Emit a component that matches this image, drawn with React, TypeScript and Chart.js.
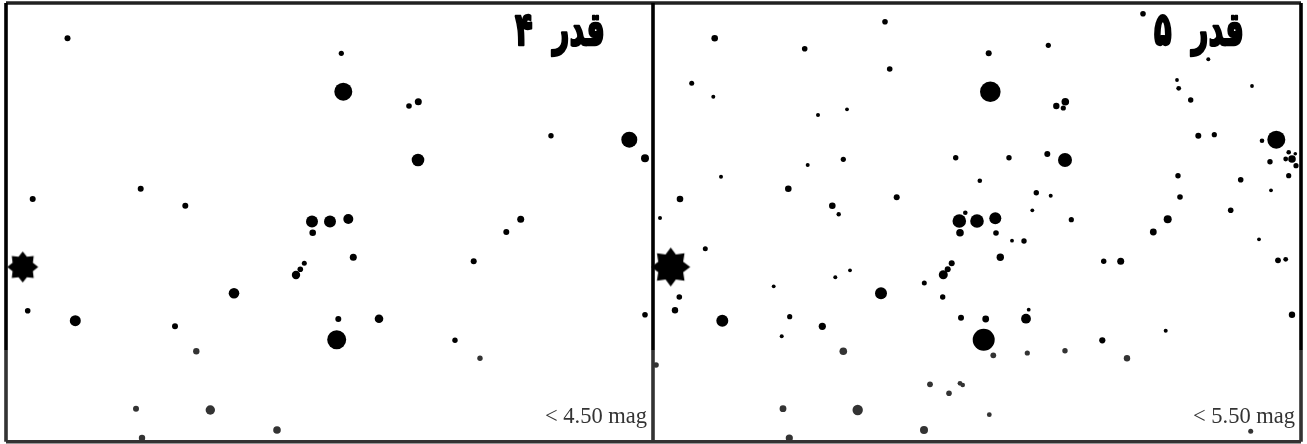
import React, { useEffect, useRef } from "react";
import { Chart, registerables } from "chart.js";

Chart.register(...registerables);

// Sky positions: [x, y, apparent size]
const starsMag4: number[][] = [
  [67.5, 38.3, 3], [32.7, 199, 3], [140.7, 188.7, 3], [185.3, 205.7, 3],
  [341.3, 53.3, 2.6], [343.3, 91.7, 9], [409, 106, 2.8], [418.3, 101.7, 3.5],
  [629.3, 139.7, 8], [645, 158.3, 4], [418, 160, 6.3], [551, 135.7, 2.7],
  [520.7, 219.3, 3.5], [348.3, 219, 5], [312, 221.5, 6], [330, 221.5, 6],
  [312.7, 232.7, 3.3], [304.3, 263.3, 2.5], [300.3, 269.3, 2.8], [296, 275, 4.2],
  [234, 293.3, 5.3], [27.7, 310.7, 2.8], [75.3, 320.7, 5.5], [175, 326.3, 3],
  [196.3, 351.3, 3.2], [136, 408.7, 3], [210.3, 410, 4.7], [142, 438, 3.2],
  [277, 430, 3.8], [506.3, 232, 3], [353.3, 257.3, 3.5], [473.7, 261.3, 3],
  [338.3, 319, 3], [379, 318.7, 4.3], [336.7, 339.7, 9.5], [455, 340.3, 2.7],
  [480, 358.3, 2.7], [645, 314.7, 2.8],
];

const starsMag5: number[][] = [
  [885, 21.7, 2.8], [714.7, 38.3, 3.3], [804.7, 48.7, 2.8], [889.7, 69, 2.8],
  [691.7, 83.3, 2.5], [713.3, 96.7, 2], [818, 115, 2], [847, 109.3, 1.9],
  [955.7, 157.7, 2.7], [843.3, 159.3, 2.6], [807.7, 165, 2], [721, 176.7, 2],
  [979.8, 180.7, 2.3], [788.3, 188.7, 3.3], [896.7, 197.3, 3], [680, 199, 3.3],
  [832.3, 205.7, 3.3], [838.7, 214.3, 2.2], [660, 218, 2], [965.3, 212.7, 2.3],
  [959.3, 221, 6.8], [977, 221, 6.8], [1143, 13.7, 2.8], [1048.3, 45.3, 2.6],
  [988.7, 53.3, 3], [1208.3, 59.3, 2], [990.3, 91.7, 10.3], [1177, 80, 1.9],
  [1178.7, 88.3, 2.4], [1252, 86, 1.9], [1190.7, 100, 2.7], [1065.3, 101.7, 3.8],
  [1056.3, 106, 3.2], [1063.3, 108, 2.6], [1198.3, 135.7, 3], [1214.3, 134.7, 2.6],
  [1276.3, 139.7, 9], [1262, 140.7, 2.3], [1009, 157.7, 2.7], [1047.3, 154, 3],
  [1065, 160, 7], [1292, 159, 3.8], [1288.7, 152.3, 2.3], [1295.3, 153.7, 1.8],
  [1285.7, 159, 2.4], [1296, 165.7, 2.6], [1270, 161.7, 2.7], [1288.7, 175.7, 2.6],
  [1178, 175.7, 2.7], [1240.7, 179.7, 2.8], [1036.3, 192.7, 2.7], [1050.7, 195.7, 2],
  [1271, 190.3, 1.9], [1180, 197, 2.8], [1032.3, 210.3, 1.9], [1230.7, 210.3, 2.8],
  [1071.3, 219.7, 2.6], [1167.7, 219.3, 4], [995.3, 218.3, 6],
  [951.7, 263.3, 3], [947.7, 269.3, 3], [943.3, 274.7, 4.5], [960, 232.7, 3.8],
  [705.3, 248.7, 2.5], [850, 270.3, 1.9], [835.3, 277.3, 2], [773.7, 286.3, 1.9],
  [924.3, 283, 2.5], [881, 293.3, 6], [679.3, 297, 2.8], [942.7, 297, 2.7],
  [675, 310.3, 3.2], [722.3, 320.7, 6], [789.7, 316.7, 2.6], [822.3, 326.3, 3.6],
  [781.7, 336.3, 2], [961, 317.7, 3], [843.3, 351.3, 3.8], [656, 365, 2.8],
  [930, 384.3, 2.9], [949, 393.3, 2.8], [960, 383.3, 2.4], [962.7, 385, 2.3],
  [783, 408.7, 3.4], [857.7, 410, 5.2], [789.3, 438, 3.6], [924, 430, 4],
  [996, 233, 2.8], [1012, 240.7, 1.9], [1024, 241, 2.7], [1153.3, 232, 3.4],
  [1259, 239.3, 1.9], [1000.3, 257.3, 3.7], [1103.7, 261.3, 2.7], [1120.7, 261.3, 3.5],
  [1278, 260.3, 2.9], [1285.7, 259.3, 2.4], [1292, 314.7, 3.2], [1028.7, 309.7, 1.9],
  [1026, 318.7, 4.9], [985.7, 319, 3.4], [1165.7, 330.7, 2], [983.7, 339.7, 11],
  [1102.3, 340.3, 3.1], [1065, 350.7, 2.7], [1027.3, 353, 2.6], [993.3, 355.3, 2.9],
  [1127, 358.3, 3.2], [989.3, 414.7, 2.4], [1250.7, 431.3, 2.5],
];

const sunX = [22.7, 670.7];
const sunY = [267, 267];

const panelTitles = ["قدر  ۴", "قدر  ۵"];
const limitLabels = ["< 4.50 mag", "< 5.50 mag"];

const frameX = [6, 653, 1301];
const frameTop = 3;
const frameFade = 350;
const frameBottom = 441.8;

const INK = "#000000";
const FADED = "#333333";

function sunSprite(outer: number, inner: number): HTMLCanvasElement {
  const size = Math.ceil(outer * 2 + 2);
  const c = document.createElement("canvas");
  c.width = size;
  c.height = size;
  const g = c.getContext("2d")!;
  g.translate(size / 2, size / 2);
  g.beginPath();
  for (let i = 0; i < 16; i++) {
    const a = (i * Math.PI) / 8 - Math.PI / 2;
    const r = i % 2 === 0 ? outer : inner;
    g.lineTo(r * Math.cos(a), r * Math.sin(a));
  }
  g.closePath();
  g.fillStyle = "#000";
  g.fill();
  return c;
}

const bubbleData = (rows: number[][]) => rows.map(([x, y, r]) => ({ x, y, r }));

const shade = (ctx: any) => (ctx.raw && ctx.raw.y > frameFade ? FADED : INK);

const labelsPlugin = {
  id: "panelLabels",
  afterDatasetsDraw(chart: any) {
    const { ctx, scales } = chart;
    const titleAnchors = [605, 1244];
    const labelAnchors = [647, 1295];
    panelTitles.forEach((t, i) => {
      ctx.save();
      ctx.translate(scales.x.getPixelForValue(titleAnchors[i]), scales.y.getPixelForValue(45));
      ctx.scale(0.76, 1.2);
      ctx.font = "bold 38px 'DejaVu Sans'";
      ctx.direction = "rtl";
      ctx.textAlign = "right";
      ctx.textBaseline = "alphabetic";
      ctx.fillStyle = INK;
      ctx.strokeStyle = INK;
      ctx.lineWidth = 2;
      ctx.lineJoin = "round";
      ctx.strokeText(t, 0, 0);
      ctx.fillText(t, 0, 0);
      ctx.restore();
    });
    ctx.save();
    limitLabels.forEach((t, i) => {
      ctx.font = "22.5px 'Liberation Serif'";
      ctx.direction = "ltr";
      ctx.textAlign = "right";
      ctx.textBaseline = "alphabetic";
      ctx.fillStyle = FADED;
      ctx.fillText(t, scales.x.getPixelForValue(labelAnchors[i]), scales.y.getPixelForValue(423));
    });
    ctx.restore();
  },
};

export default function App() {
  const ref = useRef<HTMLCanvasElement>(null);

  useEffect(() => {
    const edge = (data: { x: number; y: number }[], color: string) => ({
      type: "line" as const,
      data,
      borderColor: color,
      borderWidth: 3.6,
      pointRadius: 0,
      clip: false,
      order: 0,
    });
    const verticals = frameX.flatMap((x) => [
      edge([{ x, y: frameTop }, { x, y: frameFade }], INK),
      edge([{ x, y: frameFade }, { x, y: frameBottom }], FADED),
    ]);
    const chart = new Chart(ref.current!, {
      type: "bubble",
      data: {
        datasets: [
          ...verticals,
          edge([{ x: frameX[0], y: frameTop }, { x: frameX[2], y: frameTop }], "#222222"),
          edge([{ x: frameX[0], y: frameBottom }, { x: frameX[2], y: frameBottom }], FADED),
          {
            label: "Sun4",
            data: [{ x: sunX[0], y: sunY[0], r: 15 }],
            pointStyle: sunSprite(15.5, 11),
            backgroundColor: INK,
            borderWidth: 0,
            clip: false,
            order: 1,
          },
          {
            label: "Sun5",
            data: [{ x: sunX[1], y: sunY[1], r: 19 }],
            pointStyle: sunSprite(19.5, 13.5),
            backgroundColor: INK,
            borderWidth: 0,
            clip: false,
            order: 1,
          },
          {
            label: "mag < 4.5",
            data: bubbleData(starsMag4),
            backgroundColor: shade,
            borderWidth: 0,
            clip: false,
            order: 2,
          },
          {
            label: "mag < 5.5",
            data: bubbleData(starsMag5),
            backgroundColor: shade,
            borderWidth: 0,
            clip: false,
            order: 2,
          },
        ] as any,
      },
      options: {
        animation: false,
        responsive: false,
        layout: { padding: 0, autoPadding: false },
        plugins: { legend: { display: false }, tooltip: { enabled: false } },
        scales: {
          x: { type: "linear", display: false, min: 0, max: 1307 },
          y: { type: "linear", display: false, min: 0, max: 444, reverse: true },
        },
      },
      plugins: [labelsPlugin],
    });
    return () => chart.destroy();
  }, []);

  return (
    <div style={{ position: "absolute", left: 0, top: 0, width: 1307, height: 444, background: "#fff" }}>
      <canvas ref={ref} width={1307} height={444} style={{ display: "block" }} />
    </div>
  );
}
